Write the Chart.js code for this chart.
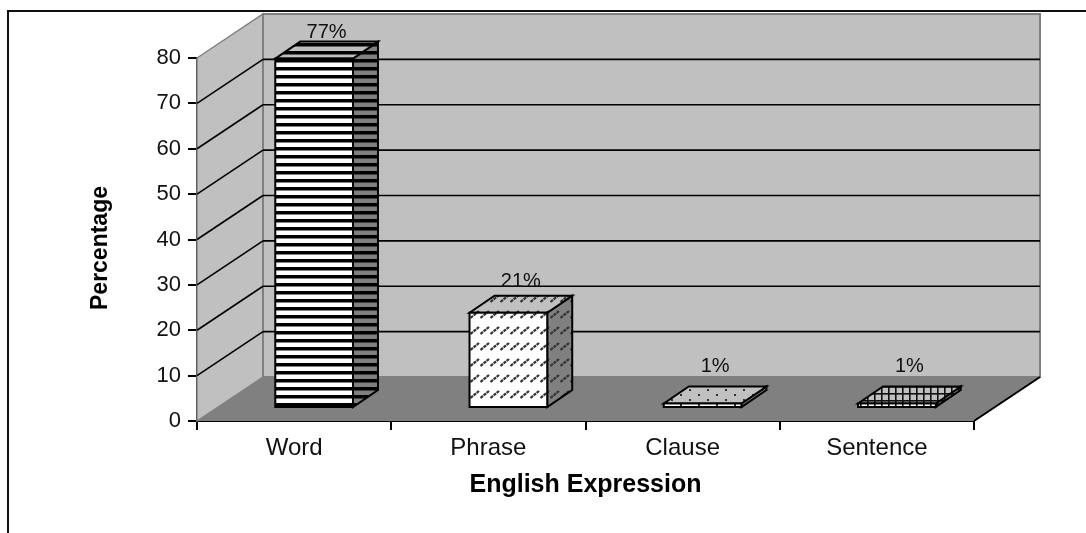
<!DOCTYPE html>
<html>
<head>
<meta charset="utf-8">
<title>English Expression</title>
<script src="https://cdn.jsdelivr.net/npm/chart.js@4/dist/chart.umd.min.js"></script>
<style>
html, body { margin: 0; padding: 0; background: #fff; overflow: hidden; }
#wrap { position: relative; width: 1086px; height: 533px; }
</style>
</head>
<body>
<div id="wrap"><canvas id="chart" width="1086" height="533"></canvas></div>
<script>
// data
var categories = ["Word", "Phrase", "Clause", "Sentence"];
var percentages = [77, 21, 1, 1];
var yMax = 80;
var yStep = 10;

var FONT = "'Liberation Sans', Arial, sans-serif";
var WALL = { dx: 66, dy: -44 };       // how far the back wall sits from the front axes
var BAR_SHIFT = { dx: 20, dy: -13 };  // bars stand inside the floor, not on its edge
var BAR_DEPTH = { dx: 25, dy: -17 };
var LABEL_LIFT = [21, 26, 31.5, 31.5]; // gap between a bar's front top and its label

// fill tiles
function tile(w, h, bg, draw) {
	var c = document.createElement("canvas");
	c.width = w;
	c.height = h;
	var t = c.getContext("2d");
	t.fillStyle = bg;
	t.fillRect(0, 0, w, h);
	draw(t);
	return document.createElement("canvas").getContext("2d").createPattern(c, "repeat");
}
function stripes(bg) {
	return tile(8, 8, bg, function(t) {
		t.fillStyle = "#000";
		t.fillRect(0, 0, 8, 3.5);
	});
}
function dashes(bg) {
	return tile(10, 16, bg, function(t) {
		t.strokeStyle = "#333";
		t.lineWidth = 2.2;
		t.setLineDash([3.2, 0.8]);
		t.beginPath();
		t.moveTo(0.5, 11);
		t.lineTo(9, 4);
		t.stroke();
	});
}
function dots(bg) {
	return tile(18, 10, bg, function(t) {
		t.fillStyle = "#333";
		t.fillRect(3, 2, 2, 2);
		t.fillRect(12, 7, 2, 2);
	});
}
function checks(bg) {
	return tile(7, 7, bg, function(t) {
		t.fillStyle = "#111";
		t.fillRect(0, 0, 1.6, 7);
		t.fillRect(0, 0, 7, 1.6);
	});
}
var fills = [stripes, dashes, dots, checks];

function poly(ctx, pts, fill, stroke, lw) {
	ctx.beginPath();
	ctx.moveTo(pts[0][0], pts[0][1]);
	for(var i=1; i<pts.length; i++) ctx.lineTo(pts[i][0], pts[i][1]);
	ctx.closePath();
	if(fill) {
		ctx.fillStyle = fill;
		ctx.fill();
	}
	if(stroke) {
		ctx.strokeStyle = stroke;
		ctx.lineWidth = lw;
		ctx.stroke();
	}
}
function line(ctx, x1, y1, x2, y2, color, lw) {
	ctx.beginPath();
	ctx.moveTo(x1, y1);
	ctx.lineTo(x2, y2);
	ctx.strokeStyle = color;
	ctx.lineWidth = lw;
	ctx.stroke();
}

// outer frame, walls and floor
var roomPlugin = {
	id: "room",
	beforeDatasetsDraw: function(chart) {
		var ctx = chart.ctx;
		var a = chart.chartArea;
		var y = chart.scales.y;
		var bx = WALL.dx, by = WALL.dy;

		line(ctx, 8, 533, 8, 11, "#111", 2);
		line(ctx, 7, 11, 1086, 11, "#111", 2);

		poly(ctx, [[a.left, a.top], [a.left+bx, a.top+by], [a.left+bx, a.bottom+by], [a.left, a.bottom]], "#c0c0c0", "#808080", 1.5);
		poly(ctx, [[a.left+bx, a.top+by], [a.right+bx, a.top+by], [a.right+bx, a.bottom+by], [a.left+bx, a.bottom+by]], "#c0c0c0", "#808080", 2);
		poly(ctx, [[a.left, a.bottom], [a.left+bx, a.bottom+by], [a.right+bx, a.bottom+by], [a.right, a.bottom]], "#808080");
		line(ctx, a.right, a.bottom, a.right+bx, a.bottom+by, "#000", 2);

		for(var v=yStep; v<yMax; v+=yStep) {
			var py = y.getPixelForValue(v);
			line(ctx, a.left, py, a.left+bx, py+by, "#000", 1.6);
			line(ctx, a.left+bx, py+by, a.right+bx, py+by, "#000", 1.6);
		}

		// axis title sits off centre, so it is placed here instead of by the scale
		ctx.save();
		ctx.translate(101, 248);
		ctx.rotate(-Math.PI/2);
		ctx.fillStyle = "#000";
		ctx.font = "bold 23px " + FONT;
		ctx.textAlign = "center";
		ctx.textBaseline = "middle";
		ctx.fillText("Percentage", 0, 0);
		ctx.restore();

		// bar top and side faces, then shift for the fronts the library draws
		var bars = chart.getDatasetMeta(0).data;
		ctx.save();
		ctx.translate(BAR_SHIFT.dx, BAR_SHIFT.dy);
		bars.forEach(function(bar, i) {
			var l = bar.x - bar.width/2, r = bar.x + bar.width/2;
			var dx = BAR_DEPTH.dx, dy = BAR_DEPTH.dy;
			poly(ctx, [[r, bar.y], [r+dx, bar.y+dy], [r+dx, bar.base+dy], [r, bar.base]], fills[i]("#808080"), "#000", 2);
			poly(ctx, [[l, bar.y], [l+dx, bar.y+dy], [r+dx, bar.y+dy], [r, bar.y]], fills[i]("#c0c0c0"), "#000", 2);
		});
		ctx.restore();

		ctx.save();
		ctx.translate(BAR_SHIFT.dx, BAR_SHIFT.dy);
	},
	afterDatasetsDraw: function(chart) {
		var ctx = chart.ctx;
		var bars = chart.getDatasetMeta(0).data;

		// front outlines sit on the bar edge so flat bars keep a white core
		bars.forEach(function(bar) {
			ctx.strokeStyle = "#000";
			ctx.lineWidth = 2;
			ctx.strokeRect(bar.x - bar.width/2, bar.y, bar.width, bar.base - bar.y);
		});
		ctx.restore();

		// value labels
		ctx.fillStyle = "#111";
		ctx.font = "20px " + FONT;
		ctx.textAlign = "center";
		ctx.textBaseline = "alphabetic";
		bars.forEach(function(bar, i) {
			ctx.fillText(percentages[i] + "%", bar.x + BAR_SHIFT.dx + BAR_DEPTH.dx/2, bar.y + BAR_SHIFT.dy - LABEL_LIFT[i]);
		});
	}
};

var chart = new Chart(document.getElementById("chart"), {
	type: "bar",
	data: {
		labels: categories,
		datasets: [{
			data: percentages,
			backgroundColor: categories.map(function(c, i) { return fills[i]("#fff"); }),
			borderWidth: 0,
			barPercentage: 0.4,
			categoryPercentage: 1,
			clip: false
		}]
	},
	plugins: [roomPlugin],
	options: {
		responsive: false,
		animation: false,
		layout: { padding: { left: 76, top: 58, right: 112, bottom: 32 } },
		plugins: { legend: { display: false }, tooltip: { enabled: false } },
		scales: {
			x: {
				afterFit: function(s) { s.height = 80; },
				grid: { drawOnChartArea: false, color: "#000", lineWidth: 2, tickLength: 9 },
				border: { color: "#000", width: 2 },
				ticks: { color: "#111", font: { family: FONT, size: 24 }, padding: 4, maxRotation: 0 },
				title: { display: true, text: "English Expression", color: "#000", font: { family: FONT, size: 25, weight: "bold" }, padding: { top: 0, bottom: 1 } }
			},
			y: {
				min: 0,
				max: yMax,
				afterFit: function(s) { s.width = 121; },
				grid: { drawOnChartArea: false, color: "#000", lineWidth: 2, tickLength: 9 },
				border: { color: "#000", width: 2 },
				ticks: { stepSize: yStep, color: "#111", font: { family: FONT, size: 22 }, padding: 7 }
			}
		}
	}
});
</script>
</body>
</html>
